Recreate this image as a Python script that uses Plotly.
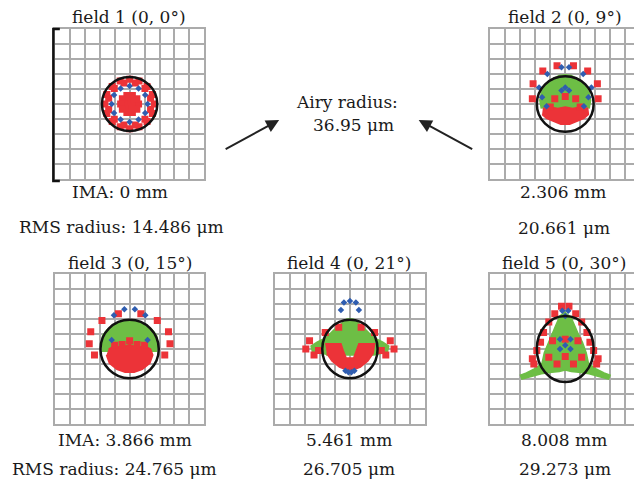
import plotly.graph_objects as go

# page body has an 8px margin, so the figure is drawn 8px in from the window corner
OFF = 8
W, H = 642 - OFF, 482 - OFF

# ---------------- data (micrometres, relative to chief ray) ----------------
TITLES = ["field 1 (0, 0°)", "field 2 (0, 9°)", "field 3 (0, 15°)", "field 4 (0, 21°)", "field 5 (0, 30°)"]
IMA_LABELS = ["IMA: 0 mm", "2.306 mm", "IMA: 3.866 mm", "5.461 mm", "8.008 mm"]
RMS_LABELS = ["RMS radius: 14.486 μm", "20.661 μm", "RMS radius: 24.765 μm", "26.705 μm", "29.273 μm"]
AIRY_TEXT = ["Airy radius:", "36.95 μm"]

# field 1
P1_RED_X = [33, 30.5, 23.3, 12.6, 0, -12.6, -23.3, -30.5, -33, -30.5, -23.3, -12.6, 0, 12.6, 23.3, 30.5,
            28, 20.5, 7.5, -7.5, -20.5, -28, -28, -20.5, -7.5, 7.5, 20.5, 28,
            0, 7, 3.5, -3.5, -7, -3.5, 3.5, 12, 9.7, 3.7, -3.7, -9.7, -12, -9.7, -3.7, 3.7, 9.7]
P1_RED_Y = [0, 12.6, 23.3, 30.5, 33, 30.5, 23.3, 12.6, 0, -12.6, -23.3, -30.5, -33, -30.5, -23.3, -12.6,
            7.5, 20.5, 28, 28, 20.5, 7.5, -7.5, -20.5, -28, -28, -20.5, -7.5,
            0, 0, 6.1, 6.1, 0, -6.1, -6.1, 0, 7.1, 11.4, 11.4, 7.1, 0, -7.1, -11.4, -11.4, -7.1]
P1_BLUE_X = [24, 20.8, 12, 0, -12, -20.8, -24, -20.8, -12, 0, 12, 20.8]
P1_BLUE_Y = [0, 12, 20.8, 24, 20.8, 12, 0, -12, -20.8, -24, -20.8, -12]
P1_GREEN_X = []
P1_GREEN_Y = []
P1_BLOB_X = []
P1_BLOB_Y = []

# field 2
P2_RED_X = [-11, 11, -30, 30, -43, 43, -44, 44, -14, 0, 14, -20, 20]
P2_RED_Y = [51, 51, 44, 44, 27, 27, 7, 7, 7, 10, 7, -4, -4]
P2_BLUE_X = [-5, 5, -24, 24, -35, 35, -31, 31, -25, 25, 0, -5, 5]
P2_BLUE_Y = [49, 49, 40, 40, 22, 22, 9, 9, -3, -3, 22, 18, 18]
P2_GREEN_X = [-32, -34, -32, -26, -18, -8, 0, 8, 18, 26, 32, 34, 32]
P2_GREEN_Y = [-6, 5, 15, 25, 33, 38, 39, 38, 33, 25, 15, 5, -6]
P2_BLOB_X = [-30, -20, -10, 0, 10, 20, 30, 31, 25, 15, 6, -6, -15, -25, -31]
P2_BLOB_Y = [-6, -4, -6, -4, -6, -4, -6, -14, -19, -23, -27, -27, -23, -19, -14]

# field 3
P3_RED_X = [-15, 15, -37, 37, -52, 52, -54, 54, -47, 47, 0, -10, 10, -20, 20]
P3_RED_Y = [47, 47, 38, 38, 23, 23, 7, 7, -8, -8, 11, 6, 6, 5, 5]
P3_BLUE_X = [-7, 7, -21, 21, -24, 24]
P3_BLUE_Y = [53, 53, 45, 45, 12, 12]
P3_GREEN_X = [-36, -38, -36, -30, -20, -10, 0, 10, 20, 30, 36, 38, 36]
P3_GREEN_Y = [-4, 8, 18, 26, 32, 36, 38, 36, 32, 26, 18, 8, -4]
P3_BLOB_X = [-28, -20, -10, 0, 10, 20, 28, 31, 27, 17, 6, -6, -17, -27, -31]
P3_BLOB_Y = [0, 4, 2, 6, 2, 4, 0, -8, -19, -27, -31, -31, -27, -19, -8]

# field 4
P4_RED_X = [-15, 15, -33, 33, -54, 54, -59, 59, -48, 48, -42, 42]
P4_RED_Y = [29, 29, 22, 22, 11, 11, 0, 0, -8, -8, -2, -2]
P4_BLUE_X = [-8, 0, 8, -12, 12, -6, -2, 2, 6]
P4_BLUE_Y = [62, 64, 62, 52, 52, -29, -31, -31, -29]
P4_GREEN_X = [-50, -52, -44, -32, -22, -12, -4, 4, 12, 22, 32, 44, 52, 50, 32, -32]
P4_GREEN_Y = [-4, 4, 9, 15, 25, 34, 40, 40, 34, 25, 15, 9, 4, -4, -8, -8]
P4_BLOB_X = [-33, -12, -9, -5, 5, 9, 12, 33, 31, 24, 14, 4, -4, -14, -24, -31]
P4_BLOB_Y = [7, 7, -2, -12, -12, -2, 7, 7, -6, -16, -24, -28, -28, -24, -16, -6]

# field 5
P5_RED_X = [-5, 5, -14, 14, -22, 22, -29, 29, -33, 33, -38, 38, -44, 44, -42, 42,
            -17, 17, 0, -22, 22, 0, -11, 11]
P5_RED_Y = [57, 57, 47, 47, 36, 36, 22, 22, 9, 9, -2, -2, -13, -13, -20, -20,
            11, 11, 13, -11, -11, -10, -20, -20]
P5_BLUE_X = [-4, 4, 0, -7, 7, 0, -7, 7]
P5_BLUE_Y = [51, 51, 44, 13, 13, 5, 0, 0]
P5_GREEN_X = [0, -7, -12, -17, -23, -28, -31, -42, -52, -60, -58, -46, -32, -18, -8, 0,
              8, 18, 32, 46, 58, 60, 52, 42, 31, 28, 23, 17, 12, 7]
P5_GREEN_Y = [50, 44, 33, 21, 9, -5, -19, -27, -32, -35, -40, -37, -33, -31, -30, -28,
              -30, -31, -33, -37, -40, -35, -32, -27, -19, -5, 9, 21, 33, 44]
P5_BLOB_X = []
P5_BLOB_Y = []

# ---------------- layout geometry (window pixels) ----------------
PANEL_LEFT = [55, 492, 55, 276, 492]
PANEL_TOP = [29, 29, 274, 274, 274]
PANEL_SIZE = 150
AIRY_RX = [37, 38, 39, 37, 38]
AIRY_RY = [36, 37, 39, 39, 44]
TITLE_POS = [(129, 17), (567, 17), (130, 263), (350, 263), (566, 263)]
IMA_POS = [(120, 192), (565, 192), (125, 440), (350, 440), (566, 440)]
RMS_POS = [(122, 227), (566, 228), (115, 469), (350, 469), (567, 469)]

RED = "#EC3338"
BLUE = "#2F5DB0"
GREEN = "#6DBE45"
GRID = "#ABABAB"
TXT = "#1a1a1a"
FONT = "DejaVu Serif"
FS = 17

panels = [
    (P1_RED_X, P1_RED_Y, P1_BLUE_X, P1_BLUE_Y, P1_GREEN_X, P1_GREEN_Y, P1_BLOB_X, P1_BLOB_Y),
    (P2_RED_X, P2_RED_Y, P2_BLUE_X, P2_BLUE_Y, P2_GREEN_X, P2_GREEN_Y, P2_BLOB_X, P2_BLOB_Y),
    (P3_RED_X, P3_RED_Y, P3_BLUE_X, P3_BLUE_Y, P3_GREEN_X, P3_GREEN_Y, P3_BLOB_X, P3_BLOB_Y),
    (P4_RED_X, P4_RED_Y, P4_BLUE_X, P4_BLUE_Y, P4_GREEN_X, P4_GREEN_Y, P4_BLOB_X, P4_BLOB_Y),
    (P5_RED_X, P5_RED_Y, P5_BLUE_X, P5_BLUE_Y, P5_GREEN_X, P5_GREEN_Y, P5_BLOB_X, P5_BLOB_Y),
]


def fx(px):
    return (px - OFF) / W


def fy(py):
    return 1 - (py - OFF) / H


fig = go.Figure()
layout = dict(width=W, height=H, margin=dict(l=0, r=0, t=0, b=0),
              paper_bgcolor="white", plot_bgcolor="white", showlegend=False)
shapes = []
annotations = []

for i, (rx, ry, bx, by, gx, gy, blx, bly) in enumerate(panels):
    n = "" if i == 0 else str(i + 1)
    xa, ya = "x" + n, "y" + n
    left, top = PANEL_LEFT[i], PANEL_TOP[i]
    right = min(left + PANEL_SIZE, 642)
    xr = [-100, -100 + 200 * (right - left) / PANEL_SIZE]
    ax_common = dict(showgrid=True, gridcolor=GRID, gridwidth=2, dtick=20, tick0=0,
                     zeroline=True, zerolinecolor=GRID, zerolinewidth=2,
                     showline=True, linecolor=GRID, linewidth=2, mirror=True,
                     showticklabels=False, ticks="", fixedrange=True)
    layout["xaxis" + n] = dict(domain=[fx(left), min(fx(right), 1)], range=xr, anchor=ya, **ax_common)
    layout["yaxis" + n] = dict(domain=[fy(top + PANEL_SIZE), fy(top)], range=[-100, 100], anchor=xa, **ax_common)

    if gx:
        fig.add_trace(go.Scatter(x=gx, y=gy, xaxis=xa, yaxis=ya, mode="lines", fill="toself",
                                 fillcolor=GREEN, line=dict(color=GREEN, width=1.5), hoverinfo="skip"))
    if blx:
        fig.add_trace(go.Scatter(x=blx, y=bly, xaxis=xa, yaxis=ya, mode="lines", fill="toself",
                                 fillcolor=RED, line=dict(color=RED, width=1.5), hoverinfo="skip"))
    fig.add_trace(go.Scatter(x=rx, y=ry, xaxis=xa, yaxis=ya, mode="markers",
                             marker=dict(symbol="square", size=7, color=RED, line=dict(width=0))))
    fig.add_trace(go.Scatter(x=bx, y=by, xaxis=xa, yaxis=ya, mode="markers",
                             marker=dict(symbol="diamond", size=5, color=BLUE, line=dict(width=0))))

    shapes.append(dict(type="circle", xref=xa, yref=ya, x0=-AIRY_RX[i], x1=AIRY_RX[i],
                       y0=-AIRY_RY[i], y1=AIRY_RY[i], line=dict(color="#111", width=2.5)))

    for txt, (px, py) in [(TITLES[i], TITLE_POS[i]), (IMA_LABELS[i], IMA_POS[i]), (RMS_LABELS[i], RMS_POS[i])]:
        annotations.append(dict(text=txt, x=fx(px), y=fy(py), xref="paper", yref="paper",
                                xanchor="center", yanchor="middle", showarrow=False,
                                font=dict(family=FONT, size=FS, color=TXT)))

# scale bracket on field 1
shapes.append(dict(type="path", xref="paper", yref="paper",
                   path=f"M {fx(60)},{fy(29)} L {fx(53.5)},{fy(29)} L {fx(53.5)},{fy(181)} L {fx(60)},{fy(181)}",
                   line=dict(color="#111", width=2.5)))

annotations.append(dict(text=AIRY_TEXT[0], x=fx(348), y=fy(90), xref="paper", yref="paper",
                        showarrow=False, font=dict(family=FONT, size=FS, color=TXT)))
annotations.append(dict(text=AIRY_TEXT[1], x=fx(355), y=fy(113), xref="paper", yref="paper",
                        showarrow=False, font=dict(family=FONT, size=FS, color=TXT)))
for hx, tx in [(280, 225), (420, 475)]:
    annotations.append(dict(text="", x=fx(hx), y=fy(120), xref="paper", yref="paper",
                            ax=tx - hx, ay=30, showarrow=True, arrowhead=2, arrowsize=1.3,
                            arrowwidth=2, arrowcolor="#222"))

layout["shapes"] = shapes
layout["annotations"] = annotations
fig.update_layout(**layout)
fig.write_html("out.html")
